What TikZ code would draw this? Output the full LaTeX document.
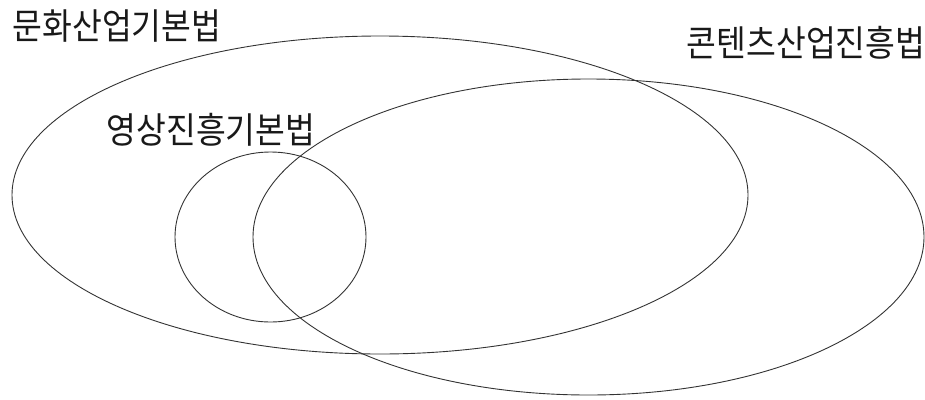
\documentclass[tikz,border=0pt]{standalone}
\usepackage{fontspec}
\newfontfamily\kr[FakeStretch=0.9]{Noto Sans CJK KR}
\usetikzlibrary{shapes.geometric, positioning}

\begin{document}
\begin{tikzpicture}[x=1pt, y=-1pt,
        ell/.style={ellipse, draw=black!80, line width=0.9pt, inner sep=0pt, outer sep=0pt},
        lab/.style={inner sep=0pt, font=\kr\fontsize{36}{36}\selectfont, text=black!90}]
      \useasboundingbox (0,0) rectangle (925,399);
      \node[ell, minimum width=736pt, minimum height=318pt] (munhwa) at (380,195) {};
      \node[ell, minimum width=671pt, minimum height=316pt] (content) at (588.5,237) {};
      \node[ell, minimum width=191pt, minimum height=170pt] (video) at (270.5,237) {};
      \node[lab] (munhwalab) at (117,26) {문화산업기본법};
      \node[lab] (contentlab) at (806,43) {콘텐츠산업진흥법};
      \node[lab] (videolab) at (211,130) {영상진흥기본법};
    \end{tikzpicture}
\end{document}
